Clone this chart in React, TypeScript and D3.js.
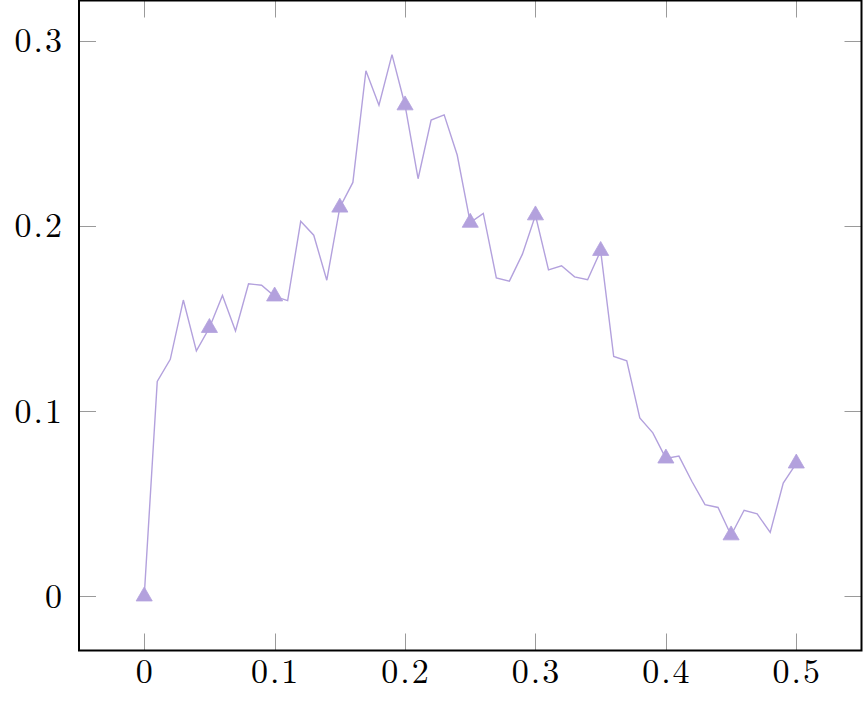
import React, { useEffect, useRef } from "react";
import * as d3 from "d3";

// values, x = 0, 0.01, ..., 0.5
const xs = d3.range(51).map((i) => i / 100);
const ys = [
  0, 0.116, 0.128, 0.16, 0.1325, 0.145, 0.1625, 0.1433, 0.1688, 0.168,
  0.162, 0.1597, 0.2025, 0.195, 0.1707, 0.21, 0.2235, 0.2838, 0.2652, 0.2925,
  0.2652, 0.2255, 0.2572, 0.26, 0.2383, 0.2018, 0.2068, 0.172, 0.1702, 0.1848,
  0.2058, 0.1763, 0.1785, 0.1725, 0.171, 0.1866, 0.1295, 0.1272, 0.0963, 0.0883,
  0.0745, 0.0757, 0.062, 0.0495, 0.048, 0.033, 0.0465, 0.0445, 0.0345, 0.0612,
  0.0718,
];
const xTicks = [0, 0.1, 0.2, 0.3, 0.4, 0.5];
const yTicks = [0, 0.1, 0.2, 0.3];

const W = 863;
const H = 705;
const left = 79;
const right = 861.5;
const top = 0.5;
const bottom = 650.5;
const col = "#b3a1dd";

const App = () => {
  const ref = useRef<SVGSVGElement>(null);

  useEffect(() => {
    const svg = d3.select(ref.current);
    svg.selectAll("*").remove();

    const [y0, y1] = d3.extent(ys) as [number, number];
    const pad = (y1 - y0) * 0.1;
    const x = d3.scaleLinear().domain([-0.05, 0.55]).range([left, right]);
    const y = d3.scaleLinear().domain([y0 - pad, y1 + pad]).range([bottom, top]);

    const font = "'Latin Modern Roman', 'Liberation Serif', serif";

    // ticks, mirrored on both sides
    const tl = 17;
    const g = svg.append("g").attr("stroke", "#9a9a9a").attr("stroke-width", 1);
    xTicks.forEach((t) => {
      const px = Math.round(x(t)) + 0.5;
      g.append("line").attr("x1", px).attr("x2", px).attr("y1", bottom).attr("y2", bottom - tl);
      g.append("line").attr("x1", px).attr("x2", px).attr("y1", top).attr("y2", top + tl);
    });
    yTicks.forEach((t) => {
      const py = Math.round(y(t)) + 0.5;
      g.append("line").attr("x1", left).attr("x2", left + tl).attr("y1", py).attr("y2", py);
      g.append("line").attr("x1", right).attr("x2", right - tl).attr("y1", py).attr("y2", py);
    });

    // line + markers
    const pts = xs.map((v, i) => [v, ys[i]] as [number, number]);
    const line = d3.line<[number, number]>().x((d) => x(d[0])).y((d) => y(d[1]));
    svg.append("path")
      .attr("d", line(pts))
      .attr("fill", "none")
      .attr("stroke", col)
      .attr("stroke-width", 1.4)
      .attr("stroke-linejoin", "miter");

    const r = 9.3;
    const tri = `M0,${-r}L${(r * Math.sqrt(3)) / 2},${r / 2}L${(-r * Math.sqrt(3)) / 2},${r / 2}Z`;
    svg.append("g")
      .selectAll("path")
      .data(pts.filter((_, i) => i % 5 === 0))
      .enter()
      .append("path")
      .attr("d", tri)
      .attr("transform", (d) => `translate(${x(d[0])},${y(d[1])})`)
      .attr("fill", col)
      .attr("stroke", col)
      .attr("stroke-width", 0.8);

    // frame
    svg.append("rect")
      .attr("x", left)
      .attr("y", top)
      .attr("width", right - left)
      .attr("height", bottom - top)
      .attr("fill", "none")
      .attr("stroke", "#000")
      .attr("stroke-width", 2);

    // labels
    const ls = 2;
    svg.append("g")
      .selectAll("text")
      .data(xTicks)
      .enter()
      .append("text")
      .attr("x", (d) => x(d) + ls / 2)
      .attr("y", 683)
      .attr("text-anchor", "middle")
      .attr("font-family", font)
      .attr("font-size", 34)
      .attr("letter-spacing", ls)
      .text((d) => String(d));

    svg.append("g")
      .selectAll("text")
      .data(yTicks)
      .enter()
      .append("text")
      .attr("x", 62 + ls)
      .attr("y", (d) => y(d) + 11.5)
      .attr("text-anchor", "end")
      .attr("font-family", font)
      .attr("font-size", 34)
      .attr("letter-spacing", ls)
      .text((d) => String(d));
  }, []);

  return (
    <div style={{ position: "absolute", left: 0, top: 0 }}>
      <svg ref={ref} width={W} height={H} style={{ display: "block", background: "#fff" }} />
    </div>
  );
};

export default App;
